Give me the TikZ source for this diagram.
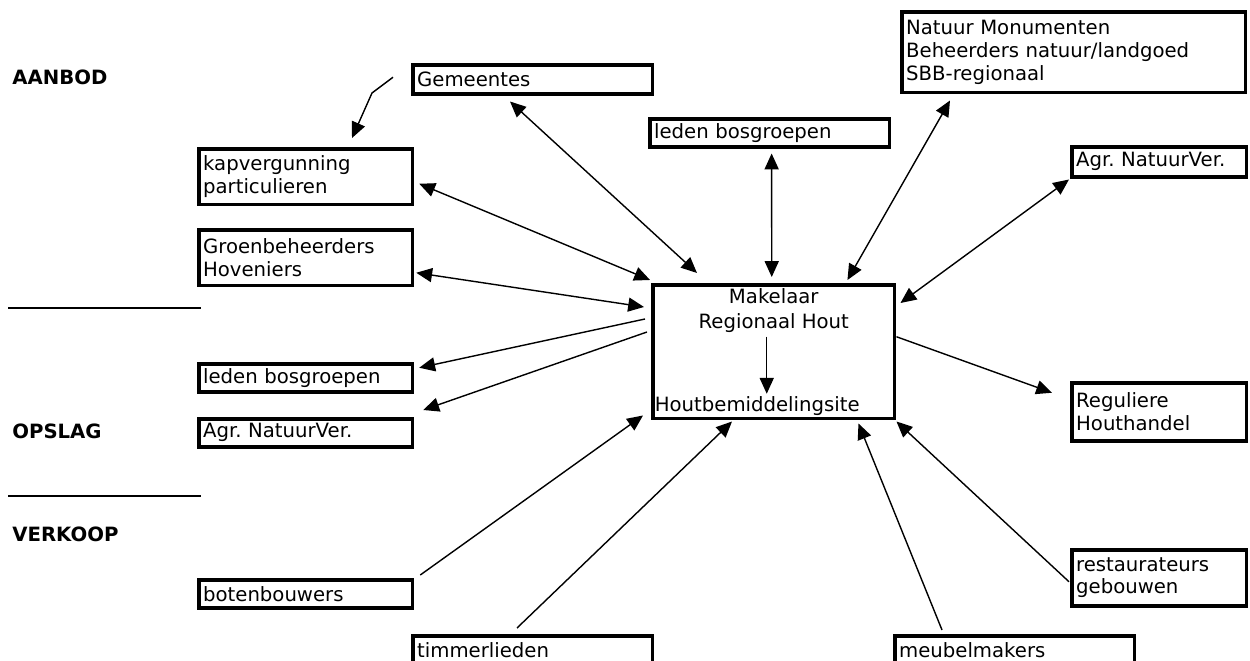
\documentclass[tikz,border=0pt]{standalone}
\usepackage{fontspec}
\setmainfont{DejaVu Sans}
\usetikzlibrary{arrows.meta}

\begin{document}
\begin{tikzpicture}[x=0.02cm,y=-0.02cm]
\tikzset{box/.style={draw,line width=2pt,anchor=north west,align=left,inner xsep=2.5pt,inner ysep=1pt,text width=#1}}
\tikzset{pijl/.style={line width=0.8pt,>={Triangle[length=9pt,width=8pt]}}}
\tikzset{every node/.append style={font=\fontsize{11.2}{12.9}\selectfont\frenchspacing}}
\tikzset{kop/.style={anchor=west,inner sep=0pt,font=\fontsize{11.2}{13}\selectfont\bfseries}}

\useasboundingbox (0,0) rectangle (1250,661);

% fasen links
\node[kop] (aanbod) at (12,77) {AANBOD};
\node[kop] (opslag) at (12,431) {OPSLAG};
\node[kop] (verkoop) at (12,534) {VERKOOP};
\draw[line width=0.8pt] (8,308) -- (201,308);
\draw[line width=0.8pt] (8,496) -- (201,496);

% makelaar
\node[draw,line width=2pt,anchor=north west,minimum width=4.84cm,minimum height=2.68cm] (mak) at (651,283) {};
\node[anchor=north,align=center,inner sep=1pt] (makt) at ([shift={(0,3)}]mak.north) {Makelaar\\[1.5pt]Regionaal Hout};
\node[anchor=south west,inner sep=2pt] (site) at ([shift={(0,-1)}]mak.south west) {Houtbemiddelingsite};

% aanbod
\node[box=4.62cm,minimum height=0.58cm] (gem) at (411,63) {Gemeentes};
\node[box=4.10cm,minimum height=1.12cm] (kap) at (197,147) {kapvergunning\\particulieren};
\node[box=4.10cm,minimum height=1.12cm] (groen) at (197,228) {Groenbeheerders\\Hoveniers};
\node[box=4.62cm,minimum height=0.56cm] (ledenT) at (648,117) {leden bosgroepen};
\node[box=6.70cm,minimum height=1.62cm] (natuur) at (900,10) {Natuur Monumenten\\Beheerders natuur/landgoed\\SBB-regionaal};
\node[box=3.32cm,minimum height=0.60cm] (agrR) at (1070,145) {Agr. NatuurVer.};

% opslag
\node[box=4.10cm,minimum height=0.56cm] (ledenL) at (197,362) {leden bosgroepen};
\node[box=4.10cm,minimum height=0.56cm] (agrL) at (197,417) {Agr. NatuurVer.};

% verkoop
\node[box=3.32cm,minimum height=1.16cm] (regul) at (1070,381) {Reguliere\\Houthandel};
\node[box=3.32cm,minimum height=1.12cm] (resto) at (1070,548) {restaurateurs\\gebouwen};
\node[box=4.10cm,minimum height=0.56cm] (boten) at (197,578) {botenbouwers};
\node[box=4.62cm,minimum height=0.56cm] (timmer) at (411,634) {timmerlieden};
\node[box=4.62cm,minimum height=0.56cm] (meubel) at (893,634) {meubelmakers};

\coordinate (knik) at (372,93);

% pijlen
\draw[pijl,->] ([shift={(-18,-2)}]gem.west) -- (knik) -- ([shift={(155,-9)}]kap.north west);
\draw[pijl,<->] ([shift={(99,6)}]gem.south west) -- ([shift={(46,-10)}]mak.north west);
\draw[pijl,<->] ([shift={(5,7)}]kap.east) -- ([shift={(-1,-3)}]mak.north west);
\draw[pijl,<->] ([shift={(2,15)}]groen.east) -- ([shift={(-7,24)}]mak.north west);
\draw[pijl,->] ([shift={(-6,36)}]mak.north west) -- ([shift={(5,-10)}]ledenL.east);
\draw[pijl,->] ([shift={(-4,49)}]mak.north west) -- ([shift={(9,-7)}]agrL.north east);
\draw[pijl,<->] ([shift={(2,5)}]ledenT.south) -- ([shift={(-2,-6)}]mak.north);
\draw[pijl,<->] ([shift={(50,6)}]natuur.south west) -- ([shift={(-49,-3)}]mak.north east);
\draw[pijl,<->] ([shift={(-1,1)}]agrR.south west) -- ([shift={(4,20)}]mak.north east);
\draw[pijl,->] ([shift={(0,-15)}]mak.east) -- ([shift={(-18,-19)}]regul.west);
\draw[pijl,->] ([shift={(6,-3)}]boten.north east) -- ([shift={(-8,-5)}]mak.south west);
\draw[pijl,->] ([shift={(106,-6)}]timmer.north west) -- ([shift={(81,1)}]mak.south west);
\draw[pijl,->] ([shift={(49,-4)}]meubel.north west) -- ([shift={(-38,3)}]mak.south east);
\draw[pijl,->] ([shift={(-1,4)}]resto.west) -- ([shift={(0,1)}]mak.south east);
\draw[pijl,->] ([shift={(-7,-15)}]mak.center) -- ([shift={(-7,42)}]mak.center);

\end{tikzpicture}
\end{document}
